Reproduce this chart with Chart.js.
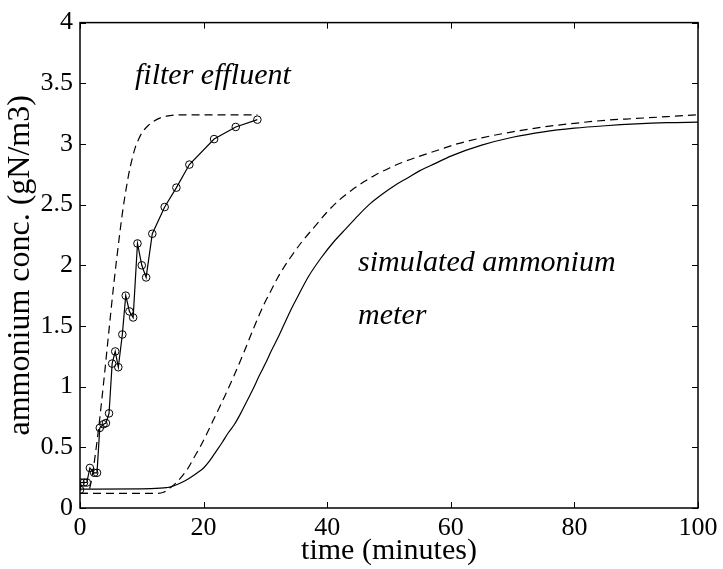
<!DOCTYPE html>
<html>
<head>
<meta charset="utf-8">
<script src="https://cdn.jsdelivr.net/npm/chart.js@4/dist/chart.umd.min.js"></script>
<style>
  html, body { margin: 0; padding: 0; background: #fff; }
  #wrap { width: 723px; height: 569px; }
</style>
</head>
<body>
<div id="wrap"><canvas id="c" width="723" height="569"></canvas></div>
<script>
// ---- data ----
const measuredX = [0, 0.1, 0.65, 1.1, 1.6, 2.3, 2.75, 3.2, 3.8, 4.2, 4.7, 5.2, 5.7, 6.2, 6.85, 7.4, 8.0, 8.6, 9.3, 10.0, 10.7, 11.7, 13.7, 15.6, 17.7, 21.7, 25.2, 28.7];
const measuredY = [0.15, 0.21, 0.21, 0.21, 0.33, 0.29, 0.29, 0.66, 0.69, 0.70, 0.78, 1.19, 1.29, 1.16, 1.43, 1.75, 1.62, 1.57, 2.18, 2.0, 1.90, 2.26, 2.48, 2.64, 2.83, 3.04, 3.14, 3.20];

const filterSimX = [0, 1.2, 1.5, 2, 2.5, 3, 3.5, 4, 4.5, 5, 5.5, 6, 6.5, 7, 7.5, 8, 8.5, 9, 9.5, 10, 11, 12, 13, 14, 16, 28.7];
const filterSimY = [0.12, 0.12, 0.15, 0.27, 0.45, 0.65, 0.88, 1.12, 1.37, 1.62, 1.86, 2.08, 2.29, 2.48, 2.64, 2.78, 2.89, 2.98, 3.04, 3.09, 3.15, 3.19, 3.215, 3.23, 3.24, 3.24];

const meterX = [0, 10, 13, 14, 14.8, 16, 17, 18, 19, 20, 21, 22, 23, 24, 25, 26, 27, 28, 29, 30, 31, 32, 33, 34, 35, 37, 39, 41, 43, 45, 47, 49, 51, 53, 55, 57.5, 60, 65, 70, 75, 80, 85, 90, 95, 100];
const meterY = [0.155, 0.157, 0.163, 0.168, 0.175, 0.2, 0.225, 0.255, 0.29, 0.33, 0.39, 0.465, 0.54, 0.62, 0.69, 0.78, 0.88, 0.98, 1.09, 1.19, 1.30, 1.40, 1.51, 1.62, 1.72, 1.91, 2.06, 2.19, 2.30, 2.41, 2.51, 2.59, 2.66, 2.72, 2.78, 2.84, 2.90, 2.99, 3.055, 3.10, 3.13, 3.15, 3.165, 3.175, 3.18];

const meterFastX = [0, 10, 12, 13.5, 14.8, 15.5, 16.5, 17.5, 18.5, 19.4, 20.5, 22, 23.5, 25, 26.5, 28, 29.7, 31, 32, 34, 36, 38, 40, 42, 44, 46, 48, 50, 52, 55, 58, 61, 65, 70, 75, 80, 85, 90, 95, 100];
const meterFastY = [0.12, 0.12, 0.12, 0.13, 0.175, 0.205, 0.26, 0.33, 0.42, 0.50, 0.61, 0.77, 0.93, 1.10, 1.28, 1.47, 1.67, 1.80, 1.90, 2.06, 2.20, 2.32, 2.44, 2.54, 2.62, 2.69, 2.75, 2.80, 2.845, 2.90, 2.95, 3.0, 3.05, 3.10, 3.14, 3.17, 3.195, 3.21, 3.225, 3.24];

const xTicks = [0, 20, 40, 60, 80, 100];
const yTicks = [0, 0.5, 1, 1.5, 2, 2.5, 3, 3.5, 4];

const labels = [
  { text: 'filter effluent', x: 8.9, y: 3.49 },
  { text: 'simulated ammonium', x: 45.0, y: 1.95 },
  { text: 'meter', x: 45.0, y: 1.52 }
];

const pts = (xs, ys) => xs.map((x, i) => ({ x: x, y: ys[i] }));
const FONT = '"Liberation Serif", "Times New Roman", Times, serif';

// box + inward ticks + annotations
const boxPlugin = {
  id: 'box',
  afterDraw(chart) {
    const { ctx, chartArea: a, scales } = chart;
    ctx.save();
    ctx.strokeStyle = '#000';
    ctx.lineWidth = 1.5;
    ctx.strokeRect(a.left, a.top, a.right - a.left, a.bottom - a.top);
    ctx.lineWidth = 1;
    const L = 6;
    ctx.beginPath();
    xTicks.forEach(v => {
      const px = Math.round(scales.x.getPixelForValue(v)) + 0.5;
      ctx.moveTo(px, a.bottom); ctx.lineTo(px, a.bottom - L);
      ctx.moveTo(px, a.top); ctx.lineTo(px, a.top + L);
    });
    yTicks.forEach(v => {
      const py = Math.round(scales.y.getPixelForValue(v)) + 0.5;
      ctx.moveTo(a.left, py); ctx.lineTo(a.left + L, py);
      ctx.moveTo(a.right, py); ctx.lineTo(a.right - L, py);
    });
    ctx.stroke();
    ctx.fillStyle = '#000';
    ctx.font = 'italic 30px ' + FONT;
    ctx.textAlign = 'left';
    ctx.textBaseline = 'alphabetic';
    labels.forEach(l => {
      ctx.fillText(l.text, scales.x.getPixelForValue(l.x), scales.y.getPixelForValue(l.y));
    });
    ctx.restore();
  }
};

new Chart(document.getElementById('c'), {
  type: 'scatter',
  data: {
    datasets: [
      {
        label: 'measured',
        data: pts(measuredX, measuredY),
        showLine: true,
        borderColor: '#000',
        borderWidth: 1.2,
        pointRadius: 3.8,
        pointBorderWidth: 1,
        pointBorderColor: '#000',
        pointBackgroundColor: 'rgba(0,0,0,0)',
        tension: 0
      },
      {
        label: 'filter simulated',
        data: pts(filterSimX, filterSimY),
        showLine: true,
        borderColor: '#000',
        borderWidth: 1.2,
        borderDash: [8, 5],
        pointRadius: 0,
        cubicInterpolationMode: 'monotone'
      },
      {
        label: 'meter',
        data: pts(meterX, meterY),
        showLine: true,
        borderColor: '#000',
        borderWidth: 1.2,
        pointRadius: 0,
        cubicInterpolationMode: 'monotone'
      },
      {
        label: 'meter dashed',
        data: pts(meterFastX, meterFastY),
        showLine: true,
        borderColor: '#000',
        borderWidth: 1.2,
        borderDash: [8, 5],
        pointRadius: 0,
        cubicInterpolationMode: 'monotone'
      }
    ]
  },
  options: {
    responsive: false,
    animation: false,
    events: [],
    layout: { padding: { top: 21, right: 25, left: 0, bottom: 0 } },
    plugins: { legend: { display: false }, tooltip: { enabled: false } },
    scales: {
      x: {
        type: 'linear', min: 0, max: 100,
        afterBuildTicks: s => { s.ticks = xTicks.map(v => ({ value: v })); },
        afterFit: s => { s.height = 61; },
        grid: { display: false, drawTicks: false },
        border: { display: false },
        ticks: { color: '#000', font: { family: FONT, size: 26 }, padding: 5, maxRotation: 0 },
        title: { display: true, text: 'time (minutes)', color: '#000', font: { family: FONT, size: 30 }, padding: { top: 0, bottom: 0 } }
      },
      y: {
        type: 'linear', min: 0, max: 4,
        afterBuildTicks: s => { s.ticks = yTicks.map(v => ({ value: v })); },
        afterFit: s => { s.width = 80; },
        grid: { display: false, drawTicks: false },
        border: { display: false },
        ticks: { color: '#000', font: { family: FONT, size: 26 }, padding: 7, callback: v => String(v) },
        title: { display: true, text: 'ammonium conc. (gN/m3)', color: '#000', font: { family: FONT, size: 32 }, padding: { top: 1, bottom: 0 } }
      }
    }
  },
  plugins: [boxPlugin]
});
</script>
</body>
</html>
